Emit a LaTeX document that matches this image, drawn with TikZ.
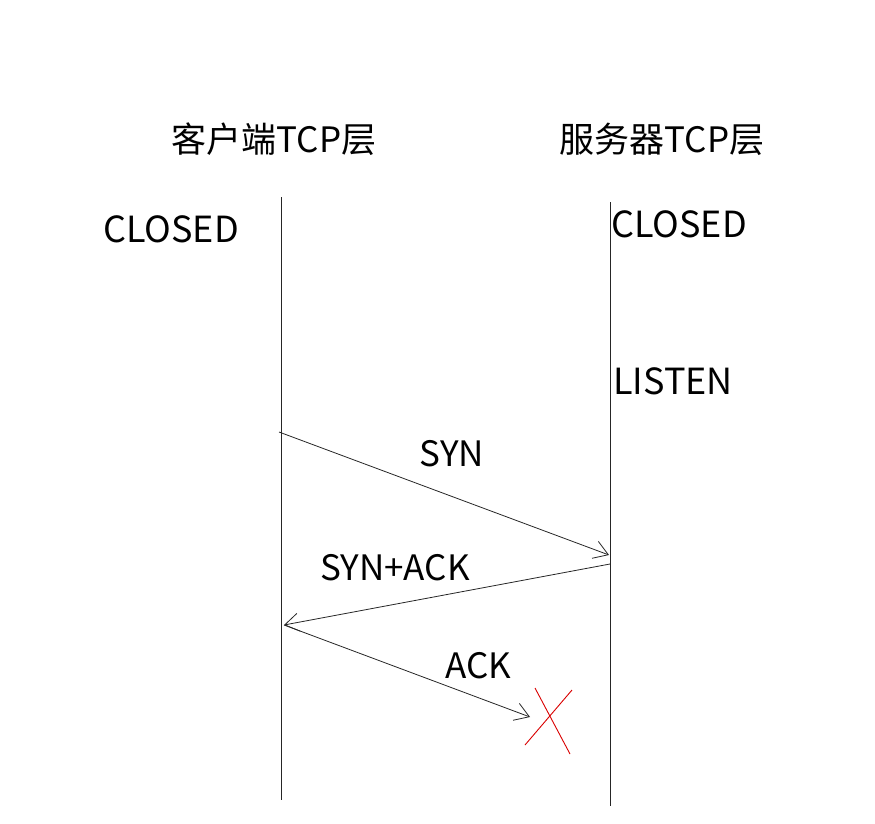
\documentclass[tikz,border=0pt]{standalone}
\usepackage{fontspec}
\setmainfont{Noto Sans CJK SC}
\usetikzlibrary{arrows.meta}
\begin{document}
\begin{tikzpicture}[x=1pt,y=-1pt,
  lifeline/.style={draw=black!85,line width=0.8pt},
  msg/.style={draw=black!85,line width=0.8pt,-{Straight Barb[length=14pt,width=18pt,line width=0.8pt]}},
  head/.style={font=\fontsize{35}{38}\selectfont,inner sep=0pt},
  state/.style={font=\fontsize{36}{38}\selectfont,inner sep=0pt},
  lbl/.style={font=\fontsize{35}{38}\selectfont,inner sep=0pt},
  cross/.style={draw=red!85!black,line width=0.9pt}]
\useasboundingbox (0,0) rectangle (875,824);
% lifelines
\coordinate (c0) at (281,197);
\coordinate (c1) at (281,800);
\coordinate (s0) at (610,202);
\coordinate (s1) at (610,806);
\draw[lifeline] (c0) -- (c1);
\draw[lifeline] (s0) -- (s1);
% headers
\node[head] (hc) at (274,139) {客户端TCP层};
\node[head] (hs) at (662,139) {服务器TCP层};
% states
\node[state,anchor=west] (cc) at (103,229) {CLOSED};
\node[state,anchor=west] (sc) at (611,224) {CLOSED};
\node[state,anchor=west] (sl) at (613,381) {LISTEN};
% messages
\coordinate (a0) at (279,432);
\coordinate (a1) at (609,555);
\coordinate (b0) at (610,564);
\coordinate (b1) at (284,625);
\coordinate (d1) at (530,717);
\draw[msg] (a0) -- (a1);
\draw[msg] (b0) -- (b1);
\draw[msg] (b1) -- (d1);
\node[lbl] (lsyn) at (452,454) {SYN};
\node[lbl] (lsa) at (395,568) {SYN+ACK};
\node[lbl] (lack) at (478,666) {ACK};
% red cross
\coordinate (x1) at (535,688);
\coordinate (x2) at (570,754);
\coordinate (x3) at (572,690);
\coordinate (x4) at (525,745);
\draw[cross] (x1) -- (x2);
\draw[cross] (x3) -- (x4);
\end{tikzpicture}
\end{document}
